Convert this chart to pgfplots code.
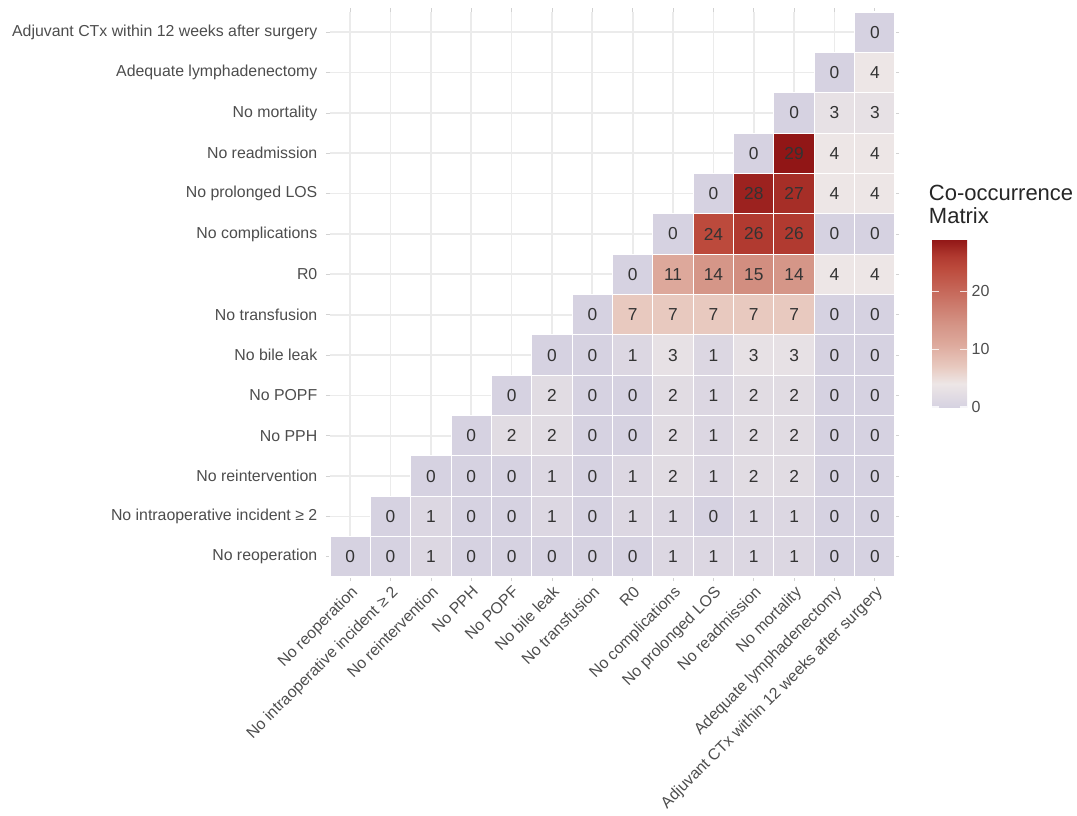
\documentclass[border=0pt]{standalone}
\usepackage{pgfplots}
\pgfplotsset{compat=1.18}
\usepackage{pgfplotstable}
\usepackage{fontspec}
\setmainfont{Liberation Sans}
\definecolor{ticklab}{HTML}{4D4D4D}
\definecolor{gridc}{HTML}{EBEBEB}
\definecolor{numc}{HTML}{333333}

\pgfplotstableread{
x y v
0 0 0
1 0 0
1 1 0
2 0 1
2 1 1
2 2 0
3 0 0
3 1 0
3 2 0
3 3 0
4 0 0
4 1 0
4 2 0
4 3 2
4 4 0
5 0 0
5 1 1
5 2 1
5 3 2
5 4 2
5 5 0
6 0 0
6 1 0
6 2 0
6 3 0
6 4 0
6 5 0
6 6 0
7 0 0
7 1 1
7 2 1
7 3 0
7 4 0
7 5 1
7 6 7
7 7 0
8 0 1
8 1 1
8 2 2
8 3 2
8 4 2
8 5 3
8 6 7
8 7 11
8 8 0
9 0 1
9 1 0
9 2 1
9 3 1
9 4 1
9 5 1
9 6 7
9 7 14
9 8 24
9 9 0
10 0 1
10 1 1
10 2 2
10 3 2
10 4 2
10 5 3
10 6 7
10 7 15
10 8 26
10 9 28
10 10 0
11 0 1
11 1 1
11 2 2
11 3 2
11 4 2
11 5 3
11 6 7
11 7 14
11 8 26
11 9 27
11 10 29
11 11 0
12 0 0
12 1 0
12 2 0
12 3 0
12 4 0
12 5 0
12 6 0
12 7 4
12 8 0
12 9 4
12 10 4
12 11 3
12 12 0
13 0 0
13 1 0
13 2 0
13 3 0
13 4 0
13 5 0
13 6 0
13 7 4
13 8 0
13 9 4
13 10 4
13 11 3
13 12 4
13 13 0
}\cooc

\begin{document}
\begin{tikzpicture}
\begin{axis}[
  at={(0,0)}, anchor=south west,
  scale only axis, width=423.75pt, height=423.75pt,
  xmin=-0.5, xmax=13.5, ymin=-0.5, ymax=13.5,
  xtick={0,...,13}, ytick={0,...,13},
  xticklabels={No reoperation, No intraoperative incident ≥ 2, No reintervention, No PPH, No POPF, No bile leak, No transfusion, R0, No complications, No prolonged LOS, No readmission, No mortality, Adequate lymphadenectomy, Adjuvant CTx within 12 weeks after surgery},
  yticklabels={No reoperation, No intraoperative incident ≥ 2, No reintervention, No PPH, No POPF, No bile leak, No transfusion, R0, No complications, No prolonged LOS, No readmission, No mortality, Adequate lymphadenectomy, Adjuvant CTx within 12 weeks after surgery},
  x tick label style={rotate=45, anchor=north east, font=\fontsize{11.9}{13}\selectfont, text=ticklab, inner sep=2pt},
  y tick label style={font=\fontsize{11.9}{13}\selectfont, text=ticklab, xshift=-3pt},
  tick align=outside, major tick length=3pt,
  tick style={gray!35, line width=0.5pt},
  grid=major, grid style={gridc, line width=1.3pt},
  axis line style={draw=none},
  colormap={cooc}{rgb255(0)=(214,210,225) rgb255(4)=(237,230,230) rgb255(7)=(232,201,191) rgb255(11)=(221,168,155) rgb255(14)=(213,150,136) rgb255(24)=(188,74,60) rgb255(26)=(177,58,48) rgb255(29)=(145,22,22)},
  point meta min=0, point meta max=29,
  colorbar/width=26.25pt,
  colorbar shift/.style={},
  colorbar,
  colorbar style={
    at={(parent axis.north east)}, anchor=north west,
    xshift=27.75pt, yshift=-170.25pt,
    scale only axis, width=26.25pt, height=126pt,
    axis line style={draw=none},
    ytick={0,10,20},
    yticklabel pos=right,
    ytick pos=both,
    tick align=inside,
    major tick length=5pt,
    tick style={white, opacity=0.8, line width=0.8pt},
    yticklabel style={font=\fontsize{12}{13}\selectfont, text=ticklab},
    /pgf/number format/assume math mode=true,
  },
]
\addplot[scatter, only marks, mark=square*, mark size=15.13pt, line width=0.8pt,
  scatter/use mapped color={draw=white, fill=mapped color},
  point meta=explicit,
] table[x=x, y=y, meta=v] {\cooc};
\addplot[only marks, mark=none, point meta=explicit,
  nodes near coords,
  every node near coord/.append style={anchor=center, text=numc, font=\fontsize{13}{14}\selectfont, /pgf/number format/assume math mode=true},
] table[x=x, y=y, meta=v] {\cooc};
\end{axis}
\node[anchor=north west, align=left, inner sep=0pt, font=\fontsize{16.5}{17.5}\selectfont, text=black!85] at (449pt, 294pt) {Co-occurrence\\Matrix};
\useasboundingbox (-247.5pt,-177.75pt) rectangle ++(807.75pt,610.5pt);
\end{tikzpicture}
\end{document}
